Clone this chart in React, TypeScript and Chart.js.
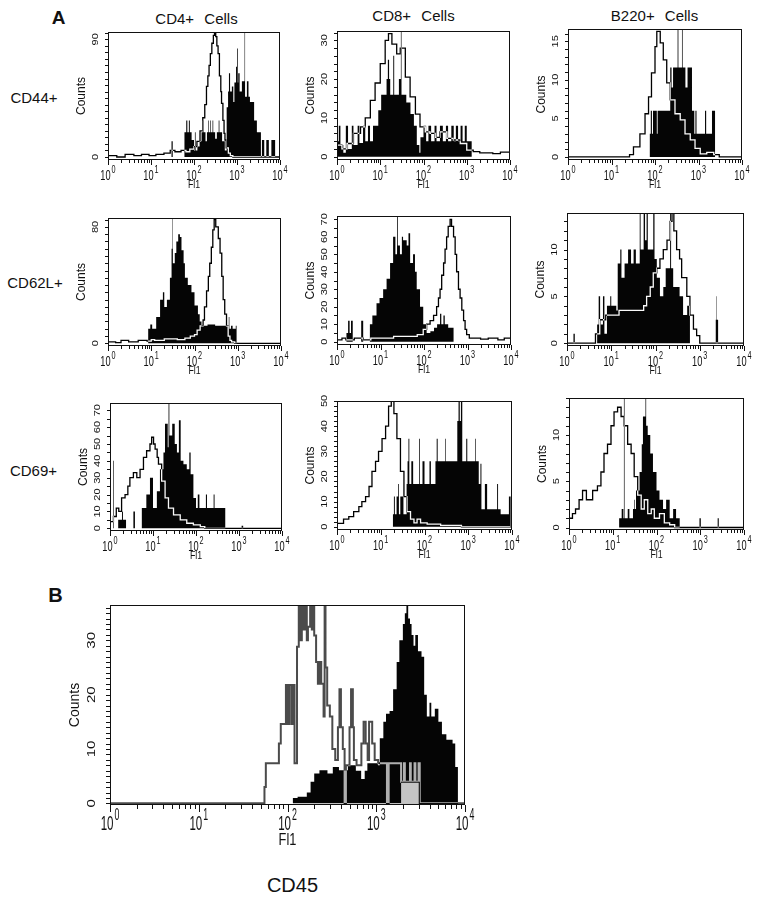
import React, { useEffect, useRef } from 'react';
import { Chart, registerables } from 'chart.js';
Chart.register(...registerables);

type Pt = [number, number];

// ---------------- axis data ----------------
const X_DECADES = [0, 1, 2, 3, 4];
const Y_CD44_CD4 = [0, 90];
const Y_CD44_CD8 = [0, 10, 20, 30];
const Y_CD44_B220 = [0, 5, 10, 15];
const Y_CD62L_CD4 = [0, 80];
const Y_CD62L_CD8 = [0, 10, 20, 30, 40, 50, 60, 70];
const Y_CD62L_B220 = [0, 5, 10];
const Y_CD69_CD4 = [0, 10, 20, 30, 40, 50, 60, 70];
const Y_CD69_CD8 = [0, 10, 20, 30, 40, 50];
const Y_CD69_B220 = [0, 5, 10];
const Y_CD45 = [0, 10, 20, 30];

// ---------------- series: [Fl1, counts], step starts ----------------
const CD44_CD4_OPEN: Pt[] = [[1,1],[1.6,0],[2.5,2],[4,1],[6,2],[9,1],[13,2],[20,3],[28,5],[36,4],[50,5],[65,4],[80,6],[100,8],[117,12],[138,20],[160,30],[178,40],[195,54],[210,62],[224,70],[240,79],[260,87],[282,93],[300,96],[320,92],[340,85],[363,79],[390,62],[420,50],[437,41],[470,28],[500,18],[525,13],[560,7],[630,3],[700,1],[800,0],[10000,0]];
const CD44_CD4_FILLED: Pt[] = [[1,0],[30,12],[32,0],[60,19],[66,28],[70,19],[76,28],[80,19],[88,13],[100,5],[105,19],[109,5],[120,8],[135,12],[150,19],[160,28],[166,19],[185,12],[200,19],[215,28],[222,19],[240,28],[248,19],[270,28],[280,19],[310,14],[340,19],[375,28],[390,19],[450,12],[520,5],[575,38],[620,50],[650,64],[690,50],[760,54],[820,42],[870,57],[950,69],[1000,83],[1040,57],[1070,64],[1150,50],[1300,58],[1500,96],[1540,46],[1700,58],[1850,46],[2000,42],[2400,42],[2500,28],[2900,19],[3500,19],[3600,0],[3800,13],[4300,0],[4800,13],[5500,0],[6300,13],[7500,13],[7700,0],[10000,0]];

const CD44_CD8_OPEN: Pt[] = [[1,3],[1.3,2],[1.7,3.4],[2.4,6],[3.5,7.7],[4.5,10],[5.9,14.5],[7.6,19],[10,24],[13,30],[15.5,31.7],[18.6,29],[24,26.5],[29,28],[38,20.5],[49,15.4],[65,11],[83,7.7],[110,6.4],[141,6],[186,5],[240,6.4],[347,4.7],[490,4.3],[708,3.4],[1000,1.7],[1413,1.3],[2000,1],[4000,0.8],[6000,1.2],[10000,1]];
const CD44_CD8_FILLED: Pt[] = [[1,4],[1.1,8],[1.2,3],[1.4,1],[1.6,8],[1.8,2],[2.2,8],[2.4,3],[3,8],[3.3,3.5],[4,8],[4.5,4],[5.2,8],[5.8,4],[6.8,8],[9,12],[10.5,16],[14,20],[15,25],[16,20],[17,16],[20,26],[21,16],[27,20],[30,33],[31,16],[40,14],[50,11],[60,8],[70,3],[80,1],[85,5],[100,8],[115,4],[130,8],[150,4],[180,8],[200,4],[240,8],[280,4],[330,8],[370,4],[440,8],[500,4],[560,8],[630,4],[720,8],[800,4],[900,8],[1000,4],[1300,0],[10000,0]];

const CD44_B220_OPEN: Pt[] = [[1,0],[26,0.3],[32,1.3],[45,3],[59,5.6],[71,7.8],[83,10.9],[100,14.3],[110,16.3],[132,14.8],[155,12.6],[186,9.6],[224,7.4],[288,5.6],[380,4.8],[490,3],[646,2.2],[832,1.1],[1096,0.4],[1549,0.6],[2239,0.3],[3000,0],[10000,0]];
const CD44_B220_FILLED: Pt[] = [[1,0],[76,3],[80,6],[85,3],[90,6],[110,3],[115,6],[224,11.6],[240,9],[260,11.6],[331,16.6],[345,11.6],[417,16.6],[432,11.6],[500,9],[560,11.6],[708,6],[800,3],[850,6],[900,3],[1413,6],[1500,3],[2042,6],[2400,0],[10000,0]];

const CD62L_CD4_OPEN: Pt[] = [[1,1],[1.5,0.5],[2,2],[3,1],[5,2],[8,1.5],[10,2.5],[12,2],[20,3],[40,2.5],[60,3.5],[80,5],[100,6],[115,9],[135,12],[158,16],[170,25],[190,36],[209,46],[225,55],[245,66],[265,78],[285,85],[310,80],[355,72],[390,62],[427,46],[460,30],[500,20],[550,12],[600,5],[660,2],[720,1],[850,0],[10000,0]];
const CD62L_CD4_FILLED: Pt[] = [[1,0],[8.5,10],[9.5,13],[10.5,10],[13,18],[16,30],[18.6,35],[20,25],[23,30],[27,45],[29.5,65],[30.9,86],[31.6,55],[35,62],[38,70],[42,75],[46,73],[50,64],[56,55],[60,45],[70,40],[85,35],[100,26],[120,20],[132,15],[145,12],[200,13],[300,12],[560,12],[620,18],[640,10],[700,12],[760,10],[900,12],[940,0],[10000,0]];

const CD62L_CD8_OPEN: Pt[] = [[1,1],[1.3,2],[1.6,1],[2.5,2],[4,1],[6,2],[10,2],[20,3],[40,3],[70,4],[96,7],[115,10],[138,12],[166,15],[195,20],[215,25],[234,30],[255,38],[282,45],[305,53],[331,60],[360,66],[398,70],[430,66],[478,60],[520,50],[562,40],[620,30],[676,25],[740,18],[813,12],[880,7],[955,4],[1100,2],[2000,1.5],[3000,2],[5000,1],[7000,2],[10000,1]];
const CD62L_CD8_FILLED: Pt[] = [[1,0],[1.65,5],[1.8,12],[1.95,5],[2.1,12],[2.3,0],[3.6,12],[4.0,0],[5.7,10],[6.5,15],[8.1,22],[9.5,25],[11.5,30],[13.8,36],[16.6,45],[19.5,60],[22,50],[24,72],[25,55],[28,50],[31,60],[33,58],[40,55],[44,62],[48,45],[56,50],[62,40],[68,30],[81,20],[96,10],[115,5],[140,6],[170,8],[200,10],[234,16],[250,10],[280,15],[300,10],[360,8],[478,0],[10000,0]];

const CD62L_B220_OPEN: Pt[] = [[1,0],[4.4,1],[5.5,2.5],[7.5,3],[12,3],[15,3.5],[25,3.5],[35,3.5],[54,4],[63,5],[76,6],[89,7.5],[107,8],[126,9],[150,10],[182,11],[214,13],[236,14],[260,12],[300,10],[350,9],[390,7],[510,5],[600,3],[720,1.5],[850,0.8],[1000,0],[10000,0]];
const CD62L_B220_FILLED: Pt[] = [[1,0],[1.4,1],[1.5,0],[4.8,2],[5.2,5],[5.6,2],[6.5,5],[7,1],[8,4],[9.5,5],[10,4],[13,3.5],[14,8.5],[16,10],[17,7],[20,8.5],[24,10],[28,8.5],[32,10],[36,8.5],[44,14],[46,10],[54,14],[58,11],[63,14],[67,10],[89,14],[95,9],[107,7],[126,5],[150,6],[170,8],[214,14],[225,8],[251,6],[350,5],[420,3],[520,4],[600,0],[2300,2.5],[2350,5],[2400,2.5],[2600,0],[10000,0]];

const CD69_CD4_OPEN: Pt[] = [[1,4],[1.2,7],[1.4,12],[1.6,10],[1.86,18],[2.24,20],[2.6,25],[2.9,30],[3.5,33],[4.2,30],[5,35],[6,42],[7.1,46],[8.5,50],[9.3,54],[10.3,50],[11.2,47],[12.5,42],[13.4,38],[15.9,28],[19.1,18],[22.9,12],[30,8],[43,5],[61,3],[87,2],[126,1],[160,0],[10000,0]];
const CD69_CD4_FILLED: Pt[] = [[1,0],[1.18,40],[1.22,0],[1.55,5],[1.9,10],[2.0,5],[2.36,0],[3.5,10],[3.8,0],[5.5,12],[7,20],[8.5,30],[10,12],[12.3,22],[14.5,35],[17.5,45],[19,62],[22,48],[23,74],[24,55],[28,62],[32,50],[36,45],[40,64],[44,40],[51,38],[61,35],[70,45],[75,32],[87,18],[100,12],[110,20],[120,12],[170,20],[180,12],[257,20],[270,12],[400,12],[479,0],[1150,1.5],[1250,0],[10000,0]];

const CD69_CD8_OPEN: Pt[] = [[1,1.3],[1.41,3],[1.86,4],[2.4,6],[3.16,8],[3.7,10],[4.5,12],[5.4,16],[6.3,22],[7.6,26],[8.9,30],[10.7,35],[12.9,40],[15.1,48],[17.4,51],[20,45],[23.4,35],[28.2,22],[33.9,12],[39.8,6],[47.9,3],[57.5,1.5],[67.6,3],[81.3,1.5],[115,1],[162,1],[234,0.5],[468,0.5],[700,0],[10000,0]];
const CD69_CD8_FILLED: Pt[] = [[1,0],[19,5],[20,12],[21,5],[23,12],[25,17],[26,5],[28,12],[33,5],[39,17],[41,26],[43,35],[45,17],[50,26],[55,17],[75,35],[78,17],[90,26],[100,17],[130,26],[140,17],[178,26],[190,35],[200,26],[300,35],[310,26],[562,42],[600,51],[640,42],[680,51],[730,26],[900,35],[950,26],[1450,35],[1500,26],[1738,17],[1900,25],[2000,7],[2400,17],[2700,7],[4570,17],[4800,7],[5500,5],[8500,12],[9300,0],[10000,0]];

const CD69_B220_OPEN: Pt[] = [[1,1],[1.2,1.5],[1.41,2],[1.7,3],[2.04,4],[2.5,3],[3.47,4],[4.47,4.5],[5.37,6],[6.31,8],[7.59,9],[9.12,11],[10.7,12.5],[12.9,13],[15.5,12],[18.2,11],[21.9,9],[26.3,8],[30.9,5.5],[37.2,3.5],[44.7,2],[52.5,3],[63.1,1.5],[75.9,2],[89.1,1],[117,1.5],[151,0.5],[200,0.3],[260,0],[10000,0]];
const CD69_B220_FILLED: Pt[] = [[1,0],[14,1],[16,2],[17.5,1],[18,14],[18.6,1],[22,2],[24,1],[29,2],[31,3],[32,2],[34,4],[41,6],[46,9],[49,12],[56,14],[58,11],[63,10],[72,8],[83,6],[100,4],[117,3],[141,2],[166,3],[200,1],[240,2],[280,1],[339,0],[960,1],[1030,0],[2500,1],[2650,0],[10000,0]];

const CD45_OPEN: Pt[] = [[1,0],[55,3],[57,7.4],[80,11],[84,14.6],[96,21.8],[100,14.6],[104,21.8],[110,14.6],[115,21.8],[120,7.4],[128,28.8],[134,36.5],[140,30],[145,36.5],[150,32],[158,36.5],[165,30],[170,32.5],[180,36.5],[188,32],[192,36.5],[200,30.9],[210,26],[220,22],[230,26],[240,22],[255,16],[262,36.5],[268,25],[280,18],[300,16],[320,10],[345,8],[370,14],[385,21],[400,14],[420,10],[440,0],[455,7],[500,14],[520,21],[545,14],[560,8],[600,7],[680,11],[720,15],[760,11],[800,8],[830,15],[870,15],[900,11],[960,8],[1050,7.4],[1320,0],[1380,7.4],[1905,4],[2050,7.4],[2100,4],[2400,7.4],[2450,4],[2700,7.4],[2760,4],[3000,7.4],[3090,0],[10000,0]];
const CD45_FILLED: Pt[] = [[1,0],[115,1],[130,1.2],[165,2],[182,4],[200,5.5],[229,6.1],[282,5.5],[324,6.7],[380,6.1],[479,7],[589,6],[676,4.5],[741,6],[794,7.4],[1047,7],[1096,12],[1202,15],[1288,16.5],[1413,17],[1549,21],[1698,26],[1820,30],[1995,33],[2100,35],[2188,36.5],[2290,34],[2399,33],[2500,31],[2630,29],[2754,31],[2951,28],[3236,27],[3467,20],[3715,16],[3981,18.5],[4169,16],[4571,17.4],[5012,15],[5495,12.7],[6166,11.7],[7244,11],[7762,6.7],[8318,0],[10000,0]];
const CD45_GRAY: Pt[] = [[1,0],[1905,4],[3090,0],[10000,0]];

// ---------------- styles ----------------
const FONT = '"Liberation Sans", Arial, Helvetica, sans-serif';
const SMALL = { pad: { l: 50, r: 14, t: 6, b: 36 }, tick: 14, sup: 11, sx: 0.66, tickBase: 20, supBase: 13, fl: 10, flSx: 0.88, flBase: 28, ylab: 11, ylabSy: 0.85, ylabOff: -13, counts: 12, countsOff: -26, minor: 3, major: 5, openColor: '#ffffff', openWidth: 1.3 };
const BIG = { pad: { l: 62, r: 18, t: 6, b: 48 }, tick: 21, sup: 16, sx: 0.55, tickBase: 25, supBase: 15, fl: 16, flSx: 0.8, flBase: 40, ylab: 15, ylabSy: 0.78, ylabOff: -18, counts: 14, countsOff: -35, minor: 4, major: 7, openColor: '#b4b4b4', openWidth: 2 };

const SPECS = [
  { id: 'a11', box: [108, 32, 280, 160], yMin: -2.3, yMax: 95.6, yStep: 5, yLabels: Y_CD44_CD4, open: CD44_CD4_OPEN, filled: CD44_CD4_FILLED, st: SMALL },
  { id: 'a12', box: [337, 31, 510, 160], yMin: -0.85, yMax: 32.4, yStep: 2, yLabels: Y_CD44_CD8, open: CD44_CD8_OPEN, filled: CD44_CD8_FILLED, st: SMALL },
  { id: 'a13', box: [568, 29, 742, 160], yMin: -0.4, yMax: 16.6, yStep: 1, yLabels: Y_CD44_B220, open: CD44_B220_OPEN, filled: CD44_B220_FILLED, st: SMALL },
  { id: 'a21', box: [108, 218, 281, 346], yMin: -1.85, yMax: 86.1, yStep: 5, yLabels: Y_CD62L_CD4, open: CD62L_CD4_OPEN, filled: CD62L_CD4_FILLED, st: SMALL },
  { id: 'a22', box: [337, 216, 511, 345], yMin: -1.9, yMax: 71.9, yStep: 5, yLabels: Y_CD62L_CD8, open: CD62L_CD8_OPEN, filled: CD62L_CD8_FILLED, st: SMALL },
  { id: 'a23', box: [567, 213, 744, 346], yMin: -0.3, yMax: 13.9, yStep: 1, yLabels: Y_CD62L_B220, open: CD62L_B220_OPEN, filled: CD62L_B220_FILLED, st: SMALL },
  { id: 'a31', box: [110, 403, 282, 531], yMin: -1.6, yMax: 74.3, yStep: 5, yLabels: Y_CD69_CD4, open: CD69_CD4_OPEN, filled: CD69_CD4_FILLED, st: SMALL },
  { id: 'a32', box: [337, 401, 512, 530], yMin: -1.3, yMax: 50, yStep: 2, yLabels: Y_CD69_CD8, open: CD69_CD8_OPEN, filled: CD69_CD8_FILLED, st: SMALL },
  { id: 'a33', box: [569, 398, 744, 530], yMin: -0.27, yMax: 14, yStep: 1, yLabels: Y_CD69_B220, open: CD69_B220_OPEN, filled: CD69_B220_FILLED, st: SMALL },
  { id: 'b', box: [110, 605, 465, 805], yMin: -0.3, yMax: 36.5, yStep: 1, yLabels: Y_CD45, open: CD45_OPEN, filled: CD45_FILLED, gray: CD45_GRAY, st: BIG },
];

const toXY = (arr: Pt[]) => arr.map(([x, y]) => ({ x, y }));

function makePlugin(spec: any) {
  const st = spec.st;
  return {
    id: 'facs_' + spec.id,
    beforeDatasetsDraw(chart: any) {
      const { ctx, chartArea: a } = chart;
      ctx.save();
      ctx.fillStyle = '#ffffff';
      ctx.fillRect(a.left, a.top, a.right - a.left, a.bottom - a.top);
      ctx.restore();
    },
    beforeDatasetDraw(chart: any, args: any) {
      if (chart.data.datasets[args.index].label === 'open') {
        chart.ctx.save();
        chart.ctx.globalCompositeOperation = 'difference';
      }
    },
    afterDatasetDraw(chart: any, args: any) {
      if (chart.data.datasets[args.index].label === 'open') chart.ctx.restore();
    },
    afterDraw(chart: any) {
      const { ctx, chartArea: a, scales } = chart;
      const xs = scales.x, ys = scales.y;
      ctx.save();
      ctx.strokeStyle = '#111';
      ctx.fillStyle = '#111';
      ctx.lineWidth = 1;
      const L = Math.round(a.left), T = Math.round(a.top), R = Math.round(a.right), B = Math.round(a.bottom);
      ctx.strokeRect(L + 0.5, T + 0.5, R - L - 1, B - T - 1);
      ctx.beginPath();
      X_DECADES.forEach((e) => {
        for (let k = 1; k <= 9; k++) {
          if (e === 4 && k > 1) break;
          const px = Math.round(xs.getPixelForValue(k * Math.pow(10, e))) + 0.5;
          const len = k === 1 ? st.major : st.minor;
          ctx.moveTo(px, B);
          ctx.lineTo(px, B + len);
        }
      });
      for (let v = 0; v <= spec.yMax + 1e-9; v += spec.yStep) {
        const py = Math.round(ys.getPixelForValue(v)) + 0.5;
        ctx.moveTo(L - st.minor, py);
        ctx.lineTo(L + 1, py);
      }
      ctx.stroke();
      X_DECADES.forEach((e) => {
        const px = xs.getPixelForValue(Math.pow(10, e));
        ctx.font = `${st.tick}px ${FONT}`;
        const w1 = ctx.measureText('10').width * st.sx;
        ctx.font = `${st.sup}px ${FONT}`;
        const w2 = ctx.measureText(String(e)).width * st.sx;
        const left = px - (w1 + w2 + 1) / 2;
        ctx.save();
        ctx.translate(left, B + st.tickBase);
        ctx.scale(st.sx, 1);
        ctx.font = `${st.tick}px ${FONT}`;
        ctx.textAlign = 'left';
        ctx.textBaseline = 'alphabetic';
        ctx.fillText('10', 0, 0);
        ctx.restore();
        ctx.save();
        ctx.translate(left + w1 + 1, B + st.supBase);
        ctx.scale(st.sx, 1);
        ctx.font = `${st.sup}px ${FONT}`;
        ctx.textAlign = 'left';
        ctx.fillText(String(e), 0, 0);
        ctx.restore();
      });
      ctx.save();
      ctx.translate((L + R) / 2, B + st.flBase);
      ctx.scale(st.flSx, 1);
      ctx.font = `${st.fl}px ${FONT}`;
      ctx.textAlign = 'center';
      ctx.fillText('Fl1', 0, 0);
      ctx.restore();
      spec.yLabels.forEach((v: number) => {
        const py = ys.getPixelForValue(v);
        ctx.save();
        ctx.translate(L + st.ylabOff, py);
        ctx.rotate(-Math.PI / 2);
        ctx.scale(1, st.ylabSy);
        ctx.font = `${st.ylab}px ${FONT}`;
        ctx.textAlign = 'center';
        ctx.textBaseline = 'middle';
        ctx.fillText(String(v), 0, 0);
        ctx.restore();
      });
      ctx.save();
      ctx.translate(L + st.countsOff, (T + B) / 2);
      ctx.rotate(-Math.PI / 2);
      ctx.font = `${st.counts}px ${FONT}`;
      ctx.textAlign = 'center';
      ctx.textBaseline = 'middle';
      ctx.fillText('Counts', 0, 0);
      ctx.restore();
      ctx.restore();
    },
  };
}

function FacsChart({ spec }: { spec: any }) {
  const ref = useRef<HTMLCanvasElement | null>(null);
  const [l, t, r, b] = spec.box;
  const p = spec.st.pad;
  const W = r - l + p.l + p.r;
  const H = b - t + p.t + p.b;
  useEffect(() => {
    if (!ref.current) return;
    const datasets: any[] = [
      { label: 'open', data: toXY(spec.open), stepped: true, borderColor: spec.st.openColor, borderWidth: spec.st.openWidth, fill: false, pointRadius: 0, order: 0 },
      { label: 'filled', data: toXY(spec.filled), stepped: true, borderWidth: 0, borderColor: 'rgba(0,0,0,0)', backgroundColor: '#050505', fill: 'origin', pointRadius: 0, order: 2 },
    ];
    if (spec.gray) {
      datasets.push({ label: 'gray', data: toXY(spec.gray), stepped: true, borderWidth: 0, borderColor: 'rgba(0,0,0,0)', backgroundColor: '#c4c4c4', fill: 'origin', pointRadius: 0, order: 1 });
    }
    const chart = new Chart(ref.current, {
      type: 'line',
      data: { datasets },
      options: {
        animation: false,
        responsive: false,
        events: [],
        layout: { padding: { left: p.l, right: p.r, top: p.t, bottom: p.b } },
        plugins: { legend: { display: false }, tooltip: { enabled: false } },
        scales: {
          x: { type: 'logarithmic', min: 1, max: 10000, display: false },
          y: { type: 'linear', min: spec.yMin, max: spec.yMax, display: false },
        },
      },
      plugins: [makePlugin(spec)],
    } as any);
    return () => chart.destroy();
  }, []);
  return (
    <canvas
      ref={ref}
      width={W}
      height={H}
      style={{ position: 'absolute', left: l - p.l, top: t - p.t, width: W, height: H }}
    />
  );
}

function Label({ x, y, size, bold, text, spacing }: { x: number; y: number; size: number; bold?: boolean; text: string; spacing?: number }) {
  return (
    <div
      style={{
        position: 'absolute',
        left: x,
        top: y,
        transform: 'translate(-50%, -50%)',
        fontSize: size,
        lineHeight: 1,
        fontWeight: bold ? 700 : 400,
        whiteSpace: 'pre',
        wordSpacing: spacing ?? 0,
        color: '#111',
        fontFamily: FONT,
      }}
    >
      {text}
    </div>
  );
}

export default function App() {
  return (
    <div style={{ position: 'absolute', left: 0, top: 0, width: 759, height: 899, background: '#fff', overflow: 'hidden' }}>
      <Label x={58.5} y={16.5} size={19} bold text="A" />
      <Label x={196.5} y={18} size={15} text="CD4+ Cells" spacing={6} />
      <Label x={413.5} y={15} size={15} text="CD8+ Cells" spacing={6} />
      <Label x={654.5} y={15} size={15} text="B220+ Cells" spacing={6} />
      <Label x={34} y={97} size={15} text="CD44+" />
      <Label x={35} y={282} size={15} text="CD62L+" />
      <Label x={33.5} y={470} size={15} text="CD69+" />
      <Label x={55.5} y={594.5} size={20} bold text="B" />
      <Label x={292.5} y={885} size={20} text="CD45" />
      {SPECS.map((s) => (
        <FacsChart key={s.id} spec={s} />
      ))}
    </div>
  );
}
